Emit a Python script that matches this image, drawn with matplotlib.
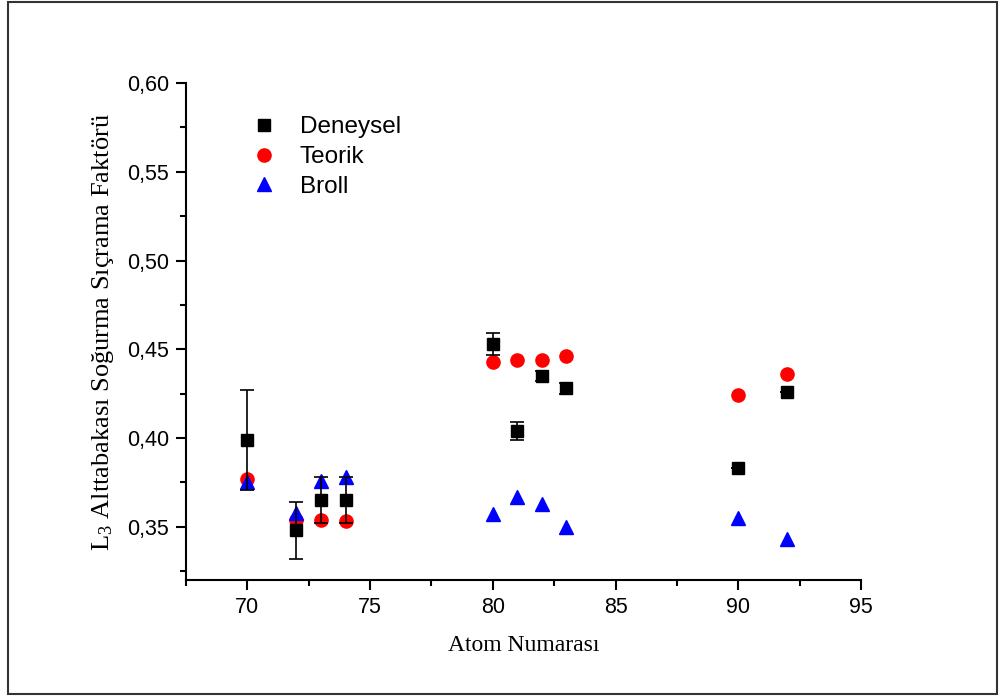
import numpy as np
import matplotlib
matplotlib.use("Agg")
import matplotlib.pyplot as plt
from matplotlib.patches import Rectangle
from matplotlib.lines import Line2D

# Atom numbers
z = np.array([70, 72, 73, 74, 80, 81, 82, 83, 90, 92])

# measured values with error bars
deneysel = np.array([0.399, 0.348, 0.365, 0.365, 0.453, 0.404, 0.435, 0.428, 0.383, 0.426])
deneysel_err = np.array([0.028, 0.016, 0.013, 0.013, 0.006, 0.005, 0.003, 0.003, 0.0, 0.0])

teorik = np.array([0.377, 0.354, 0.354, 0.353, 0.443, 0.444, 0.444, 0.446, 0.424, 0.436])
broll = np.array([0.375, 0.358, 0.376, 0.378, 0.357, 0.367, 0.363, 0.350, 0.355, 0.343])

x_ticks = [70, 75, 80, 85, 90, 95]
y_ticks = [0.35, 0.40, 0.45, 0.50, 0.55, 0.60]

plt.rcParams["mathtext.fontset"] = "custom"
plt.rcParams["mathtext.rm"] = "Liberation Serif"
plt.rcParams["mathtext.it"] = "Liberation Serif:italic"

fig = plt.figure(figsize=(10, 6.98), dpi=100)
ax = fig.add_axes([0.186, 0.169, 0.675, 0.712])

# outer frame around the whole picture
fig.patches.append(Rectangle((0.008, 0.006), 0.989, 0.991, transform=fig.transFigure,
                             fill=False, edgecolor="#333333", linewidth=1.5))

ax.plot(z, teorik, "o", color="red", markersize=9.5, zorder=3)
ax.plot(z, broll, "^", color="blue", markersize=10, zorder=4)
ax.errorbar(z, deneysel, yerr=deneysel_err, fmt="s", color="black", markersize=8.5,
            elinewidth=1.2, capsize=5, capthick=1.2, zorder=5)

ax.set_xlim(67.5, 95)
ax.set_ylim(0.32, 0.60)
ax.set_xticks(x_ticks)
ax.set_yticks(y_ticks)
ax.set_xticks(np.arange(67.5, 95.1, 2.5), minor=True)
ax.set_yticks(np.arange(0.325, 0.6, 0.05), minor=True)
ax.set_xticklabels([str(t) for t in x_ticks], fontfamily="Liberation Sans", fontsize=15.5)
ax.set_yticklabels([f"{t:.2f}".replace(".", ",") for t in y_ticks],
                   fontfamily="Liberation Sans", fontsize=15.5)
ax.tick_params(which="major", direction="out", length=7, width=1.5, pad=5)
ax.tick_params(which="minor", direction="out", length=4, width=1.5)

for s in ["top", "right"]:
    ax.spines[s].set_visible(False)
for s in ["left", "bottom"]:
    ax.spines[s].set_linewidth(1.5)

ax.set_xlabel("Atom Numarası", fontfamily="Liberation Serif", fontsize=17)
ax.set_ylabel(r"L$_3$ Alttabakası Soğurma Sıçrama Faktörü", fontfamily="Liberation Serif",
              fontsize=19)
ax.xaxis.set_label_coords(0.5, -0.111)
ax.yaxis.set_label_coords(-0.103, 0.5)

handles = [
    Line2D([], [], marker="s", color="black", linestyle="none", markersize=8.5),
    Line2D([], [], marker="o", color="red", linestyle="none", markersize=9.5),
    Line2D([], [], marker="^", color="blue", linestyle="none", markersize=10),
]
ax.legend(handles, ["Deneysel", "Teorik", "Broll"],
          loc="upper left", bbox_to_anchor=(0.056, 0.977), frameon=False,
          prop={"family": "Liberation Sans", "size": 17.5}, handletextpad=0.72,
          labelspacing=0.32, handlelength=1.5)

fig.savefig("out.png", dpi=100)
